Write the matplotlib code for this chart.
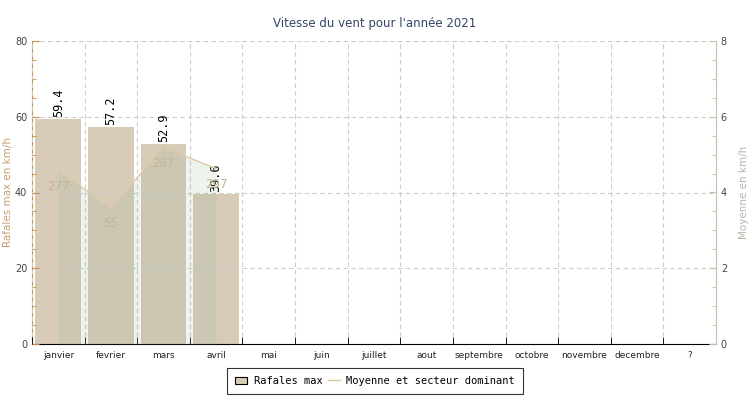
import matplotlib.pyplot as plt
from matplotlib.ticker import MultipleLocator
from matplotlib.patches import Patch
from matplotlib.lines import Line2D

mois = ['janvier', 'fevrier', 'mars', 'avril', 'mai', 'juin', 'juillet',
        'aout', 'septembre', 'octobre', 'novembre', 'decembre', '?']
rafales = [59.4, 57.2, 52.9, 39.6]
moyenne = [4.57, 3.6, 5.19, 4.63]
secteur = ['277', '55', '287', '297']

bar_col = '#d8ccb9'
line_col = '#dccaa6'

fig = plt.figure(figsize=(7.5, 4), dpi=100)
ax = fig.add_axes([32/750, 56/400, 684/750, 303/400])
ax2 = ax.twinx()

x = list(range(len(rafales)))
ax.bar(x, rafales, width=0.87, color=bar_col, zorder=1)
for xi, v in zip(x, rafales):
    ax.annotate(f'{v:.1f}', (xi, v), xytext=(0, 2), textcoords='offset pixels',
                rotation=90, ha='center', va='bottom', fontsize=8.5,
                family='DejaVu Sans Mono', color='black', zorder=5)

ax.set_xlim(-0.5, len(mois) - 0.5)
ax.set_ylim(0, 80)
ax.set_xticks(range(len(mois)))
ax.set_xticklabels(mois, fontsize=6.5, color='#222222')
ax.xaxis.set_minor_locator(MultipleLocator(1, offset=0.5))
ax.tick_params(axis='x', which='major', length=0, pad=5)
ax.tick_params(axis='x', which='minor', direction='in', length=5, color='black')
ax.yaxis.set_major_locator(MultipleLocator(20))
ax.yaxis.set_minor_locator(MultipleLocator(5))
ax.tick_params(axis='y', which='both', direction='in', color='#c8904a',
               labelsize=7, labelcolor='#444444')
ax.tick_params(axis='y', which='major', length=5)
ax.tick_params(axis='y', which='minor', length=3)
ax.grid(True, axis='y', which='major', linestyle=(0, (4, 3)), color='#cccccc', lw=0.8, zorder=3)
ax.grid(True, axis='x', which='minor', linestyle=(0, (4, 3)), color='#cccccc', lw=0.8, zorder=3)
ax.set_axisbelow(False)

ax.spines['left'].set_color('#c8904a')
ax.spines['bottom'].set_color('black')
ax.spines['top'].set_visible(False)
ax.spines['right'].set_visible(False)

ax2.fill_between(x, moyenne, color='#8eaf8e', alpha=0.15, lw=0)
ax2.plot(x, moyenne, color=line_col, lw=1)
for xi, v, s in zip(x, moyenne, secteur):
    ax2.annotate(s, (xi, v), xytext=(0, -16), textcoords='offset pixels',
                 ha='center', va='center', fontsize=8.5, color='#c4b494')
ax2.set_ylim(0, 8)
ax2.yaxis.set_major_locator(MultipleLocator(2))
ax2.yaxis.set_minor_locator(MultipleLocator(0.5))
ax2.tick_params(axis='y', which='both', direction='in', color='#c8c0a8',
                labelsize=7, labelcolor='#444444')
ax2.tick_params(axis='y', which='major', length=5)
ax2.tick_params(axis='y', which='minor', length=3)
ax2.spines['right'].set_color('#c8c0a8')
ax2.spines['top'].set_visible(False)
ax2.spines['left'].set_visible(False)
ax2.spines['bottom'].set_visible(False)

# axis titles placed like the original
fig.text(8/750, 1 - 192/400, 'Rafales max en km/h', rotation=90, ha='center',
         va='center', fontsize=7.5, color='#c8a070')
fig.text(744/750, 1 - 192/400, 'Moyenne en km/h', rotation=90, ha='center',
         va='center', fontsize=7.5, color='#b8b4a8')

fig.suptitle("Vitesse du vent pour l'année 2021", y=1 - 24/400, va='center',
             fontsize=8.5, color='#334466')

handles = [Patch(facecolor=bar_col, edgecolor='black', lw=0.8),
           Line2D([], [], color=line_col, lw=1)]
leg = fig.legend(handles, ['Rafales max', 'Moyenne et secteur dominant'],
                 loc='center', bbox_to_anchor=(375/750, 1 - 381/400), ncol=2,
                 prop={'family': 'DejaVu Sans Mono', 'size': 7.5},
                 frameon=True, fancybox=False, edgecolor='black',
                 handlelength=1.2, handletextpad=0.6, columnspacing=0.5,
                 borderpad=0.8)
leg.get_frame().set_linewidth(0.8)

fig.savefig('out.png', dpi=100)
